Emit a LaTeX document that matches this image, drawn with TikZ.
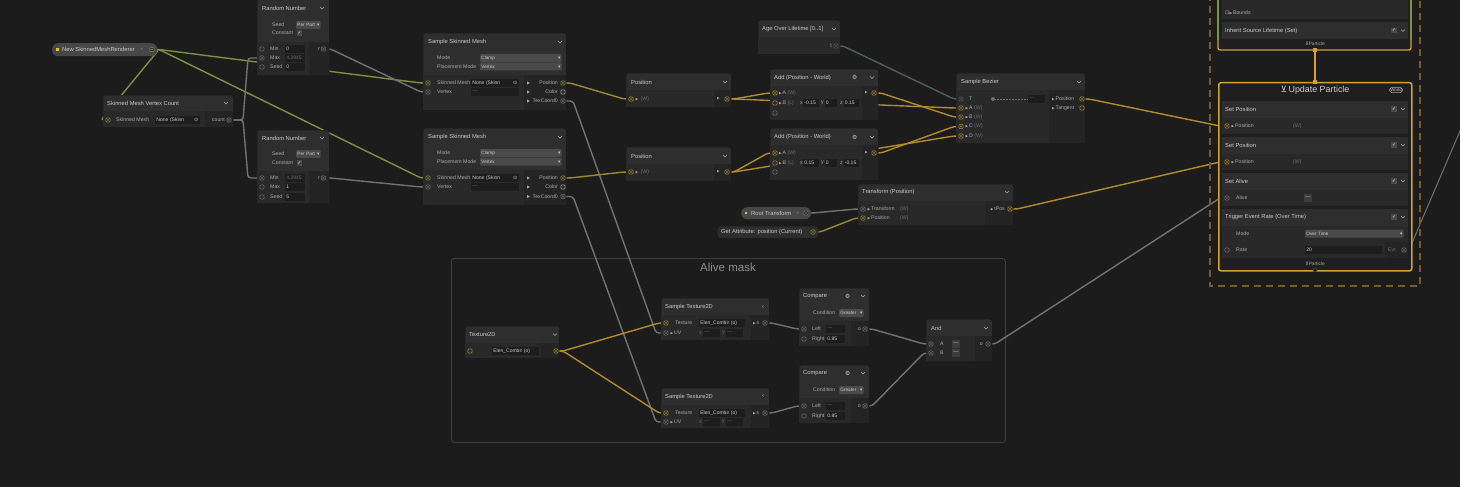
\documentclass[tikz,border=0pt]{standalone}
\usepackage{fontspec}
\setmainfont{Liberation Sans}
\newfontfamily\symf{DejaVu Sans}
\usetikzlibrary{calc}

\definecolor{bgc}{HTML}{1C1C1C}
\definecolor{hdc}{HTML}{2E2E2E}
\definecolor{rowc}{HTML}{292929}
\definecolor{outc}{HTML}{242424}
\definecolor{fldc}{HTML}{1D1D1D}
\definecolor{ddc}{HTML}{4A4A4A}
\definecolor{pillc}{HTML}{474747}
\definecolor{edgec}{HTML}{191919}
\definecolor{txc}{HTML}{CCCCCC}
\definecolor{lbc}{HTML}{AAAAAA}
\definecolor{dimc}{HTML}{6E6E6E}
\definecolor{yelc}{HTML}{E8C13A}
\definecolor{goldw}{HTML}{B38A2C}
\definecolor{olivew}{HTML}{9A8B33}
\definecolor{greenw}{HTML}{7F9140}
\definecolor{greyw}{HTML}{727272}
\definecolor{slatew}{HTML}{4F5E5A}
\definecolor{framec}{HTML}{D3A12E}
\definecolor{dashc}{HTML}{7A5B29}
\definecolor{groupc}{HTML}{3E3E3E}
\definecolor{grpt}{HTML}{8C8C8C}
\definecolor{sysc}{HTML}{1F1F1F}

\newcommand\rtri{{\symf\fontsize{3.4}{3}\selectfont ▶}\,}
\newcommand\ddarrow{\nobreak\hfill{\symf▾}}

\pgfdeclarelayer{back}
\pgfdeclarelayer{wires}
\pgfsetlayers{back,wires,main}

\tikzset{
  vfx/.style={anchor=north west, fill=hdc, draw=edgec, line width=0.4, rounded corners=1.5, inner sep=0},
  pill/.style={anchor=north west, fill=pillc, rounded corners=6, inner sep=0},
  hd/.style={anchor=west, inner sep=0, text=txc, font=\fontsize{5.8}{6}\selectfont},
  lb/.style={anchor=west, inner sep=0, text=lbc, font=\fontsize{5.2}{6}\selectfont},
  lbr/.style={lb, anchor=east},
  dim/.style={lb, text=dimc},
  fld/.style={anchor=west, fill=fldc, inner xsep=1.2, inner ysep=0, minimum height=8, text width=#1pt, text=txc, font=\fontsize{5}{6}\selectfont},
  dd/.style={fld=#1, fill=ddc, rounded corners=1, font=\fontsize{4.7}{6}\selectfont},
  chk/.style={fill=ddc, minimum size=5.5, inner sep=0, text=white, font=\symf\fontsize{4.5}{5}\selectfont},
  pt/.style={rectangle, rounded corners=1, draw=#1, line width=0.5, minimum size=4.2, inner sep=0, fill=hdc},
  cpt/.style={pt=#1, path picture={\fill[#1] (path picture bounding box.center) circle (0.9pt);}},
  ydot/.style={fill=yelc, minimum size=2.6, inner sep=0},
  fp/.style={fill=framec, minimum size=3.2, inner sep=0},
  blk/.style={anchor=north west, fill=hdc, minimum width=186, minimum height=17, inner sep=0},
  brow/.style={blk, fill=rowc, minimum height=16.5},
  chev/.style={draw=lbc, line width=0.5},
  wire/.style={line width=1.4, rounded corners=3, to path={-- ++(#1,0) -- ($(\tikztotarget)+(-#1,0)$) -- (\tikztotarget)}},
  wire/.default=7,
}

\begin{document}
\begin{tikzpicture}[x=1pt, y=-1pt]
  \useasboundingbox (0,0) rectangle (1460,487);
  \begin{pgfonlayer}{back}
    \fill[bgc] (0,0) rectangle (1460,487);
    \node[anchor=north west, draw=groupc, line width=0.8, rounded corners=3, minimum width=554, minimum height=184, inner sep=0] (mask) at (451,258) {};
    \node[text=grpt, font=\fontsize{11.5}{12}\selectfont] (mask-t) at (728,267) {Alive mask};
  \end{pgfonlayer}

  %% Skinned mesh property and vertex count
  \node[pill, minimum width=105, minimum height=13] (smr) at (52,43) {};
  \node[ydot]          (smr-d) at (57.5,49.5) {};
  \node[hd]            (smr-t) at (62,49.5)   {New SkinnedMeshRenderer};
  \node[lb]            (smr-k) at (141,49.5)  {‹};
  \node[cpt=greenw]    (smr-o) at (152,49.5)  {};

  \node[vfx, minimum width=130, minimum height=32] (vc) at (103,95) {};
  \fill[rowc] (103.4,111) rectangle (232.6,126.6);
  \fill[outc] (205,111) rectangle (232.6,126.6);
  \node[hd]            (vc-h)   at (107,103) {Skinned Mesh Vertex Count};
  \node[cpt=greenw]    (vc-in)  at (108,120) {};
  \node[lb]            (vc-l)   at (116,120) {Skinned Mesh};
  \node[fld=42]        (vc-f)   at (155,120) {None~(Skinn\nobreak\hfill{\symf⊙}};
  \node[lbr]           (vc-c)   at (225,120) {count};
  \node[cpt=greyw]     (vc-cnt) at (229,120) {};

  %% Random numbers
  \node[vfx, minimum width=72, minimum height=78] (rn1) at (257,-3) {};
  \fill[rowc] (257.4,42) rectangle (328.6,74.6);
  \fill[outc] (309,42) rectangle (328.6,74.6);
  \node[hd]            (rn1-h)   at (262,8)    {Random Number};
  \node[lb]            (rn1-sd)  at (272,25)   {Seed};
  \node[dd=22]         (rn1-sdv) at (296,25)   {Per~Part\ddarrow};
  \node[lb]            (rn1-ct)  at (272,33)   {Constant};
  \node[chk]           (rn1-ck)  at (299.5,33) {✓};
  \node[pt=greyw]      (rn1-min) at (262,49)   {};
  \node[cpt=greyw]     (rn1-max) at (262,58)   {};
  \node[pt=greyw]      (rn1-seed) at (262,67)  {};
  \node[lb]            (rn1-l1)  at (270,49)   {Min};
  \node[lb]            (rn1-l2)  at (270,58)   {Max};
  \node[lb]            (rn1-l3)  at (270,67)   {Seed};
  \node[fld=17]        (rn1-f1)  at (285,49)   {0};
  \node[fld=17, text=dimc] (rn1-f2) at (285,58) {4.2945};
  \node[fld=17]        (rn1-f3)  at (285,67)   {0};
  \node[lbr]           (rn1-rl)  at (320,49)   {r};
  \node[cpt=greyw]     (rn1-r)   at (323.5,49) {};

  \node[vfx, minimum width=72, minimum height=73] (rn2) at (257,130) {};
  \fill[rowc] (257.4,171) rectangle (328.6,202.6);
  \fill[outc] (309,171) rectangle (328.6,202.6);
  \node[hd]            (rn2-h)   at (262,138)   {Random Number};
  \node[lb]            (rn2-sd)  at (272,154)   {Seed};
  \node[dd=22]         (rn2-sdv) at (296,154)   {Per~Part\ddarrow};
  \node[lb]            (rn2-ct)  at (272,163)   {Constant};
  \node[chk]           (rn2-ck)  at (299.5,163) {✓};
  \node[cpt=greyw]     (rn2-min) at (262,178)   {};
  \node[pt=greyw]      (rn2-max) at (262,187)   {};
  \node[pt=greyw]      (rn2-seed) at (262,197)  {};
  \node[lb]            (rn2-l1)  at (270,178)   {Min};
  \node[lb]            (rn2-l2)  at (270,187)   {Max};
  \node[lb]            (rn2-l3)  at (270,197)   {Seed};
  \node[fld=17, text=dimc] (rn2-f1) at (285,178) {4.2945};
  \node[fld=17]        (rn2-f2)  at (285,187)   {1};
  \node[fld=17]        (rn2-f3)  at (285,197)   {5};
  \node[lbr]           (rn2-rl)  at (320,178)   {r};
  \node[cpt=greyw]     (rn2-r)   at (323.5,178) {};

  %%%%%%%%%%%%%%%%%%%%%%%%%%%%%%%%%%%%%%%%%%%%%%%%%%%%%%%%%%%
  %% Skinned mesh sampling
  %%%%%%%%%%%%%%%%%%%%%%%%%%%%%%%%%%%%%%%%%%%%%%%%%%%%%%%%%%%
  \node[vfx, minimum width=143, minimum height=77] (ssm1) at (423,33) {};
  \fill[rowc] (423.4,75) rectangle (565.6,109.6);
  \fill[outc] (524,75) rectangle (565.6,109.6);
  \node[hd]            (ssm1-h)    at (428,42)   {Sample Skinned Mesh};
  \node[lb]            (ssm1-m)    at (437,58)   {Mode};
  \node[dd=79]         (ssm1-mv)   at (480,58)   {Clamp\ddarrow};
  \node[lb]            (ssm1-pm)   at (437,66.5) {Placement Mode};
  \node[dd=79]         (ssm1-pv)   at (480,66.5) {Vertex\ddarrow};
  \node[cpt=greenw]    (ssm1-mesh) at (428,83)   {};
  \node[lb]            (ssm1-l1)   at (437,83)   {Skinned Mesh};
  \node[fld=45]        (ssm1-f1)   at (471,83)   {None~(Skinn\nobreak\hfill{\symf⊙}};
  \node[cpt=greyw]     (ssm1-vtx)  at (428,92)   {};
  \node[lb]            (ssm1-l2)   at (437,92)   {Vertex};
  \node[fld=45, text=dimc] (ssm1-f2) at (471,92) {—};
  \node[lbr]           (ssm1-o1)   at (558,83)   {Position};
  \node[cpt=greenw]    (ssm1-pos)  at (563,83)   {};
  \node[lbr]           (ssm1-o2)   at (558,92)   {Color};
  \node[pt=lbc]        (ssm1-col)  at (563,92)   {};
  \node[lbr]           (ssm1-o3)   at (558,101)  {TexCoord0};
  \node[cpt=greyw]     (ssm1-uv)   at (563,101)  {};

  \node[vfx, minimum width=143, minimum height=77] (ssm2) at (423,128) {};
  \fill[rowc] (423.4,170) rectangle (565.6,204.6);
  \fill[outc] (524,170) rectangle (565.6,204.6);
  \node[hd]            (ssm2-h)    at (428,137)   {Sample Skinned Mesh};
  \node[lb]            (ssm2-m)    at (437,153)   {Mode};
  \node[dd=79]         (ssm2-mv)   at (480,153)   {Clamp\ddarrow};
  \node[lb]            (ssm2-pm)   at (437,161.5) {Placement Mode};
  \node[dd=79]         (ssm2-pv)   at (480,161.5) {Vertex\ddarrow};
  \node[cpt=greenw]    (ssm2-mesh) at (428,178)   {};
  \node[lb]            (ssm2-l1)   at (437,178)   {Skinned Mesh};
  \node[fld=45]        (ssm2-f1)   at (471,178)   {None~(Skinn\nobreak\hfill{\symf⊙}};
  \node[cpt=greyw]     (ssm2-vtx)  at (428,187)   {};
  \node[lb]            (ssm2-l2)   at (437,187)   {Vertex};
  \node[fld=45, text=dimc] (ssm2-f2) at (471,187) {—};
  \node[lbr]           (ssm2-o1)   at (558,178)   {Position};
  \node[cpt=greenw]    (ssm2-pos)  at (563,178)   {};
  \node[lbr]           (ssm2-o2)   at (558,187)   {Color};
  \node[pt=lbc]        (ssm2-col)  at (563,187)   {};
  \node[lbr]           (ssm2-o3)   at (558,196.5) {TexCoord0};
  \node[cpt=greyw]     (ssm2-uv)   at (563,196.5) {};

  \foreach \y in {83,92,101,178,187,196.5}
    \fill[lbc] (527,\y-1.6) -- (529.8,\y) -- (527,\y+1.6) -- cycle;

  %% Positions and offsets
  \node[vfx, minimum width=105, minimum height=34] (pos1) at (626,73) {};
  \fill[rowc] (626.4,90) rectangle (730.6,106.6);
  \fill[outc] (714,90) rectangle (730.6,106.6);
  \node[hd]            (pos1-h)   at (631,82)  {Position};
  \node[cpt=goldw]     (pos1-in)  at (631,99)  {};
  \node[lb]            (pos1-l)   at (635.5,99) {\rtri~{\color{dimc}(W)}};
  \node[lb]            (pos1-ot)  at (717,99)  {\rtri};
  \node[cpt=goldw]     (pos1-out) at (727,99)  {};

  \node[vfx, minimum width=105, minimum height=34] (pos2) at (626,147) {};
  \fill[rowc] (626.4,164) rectangle (730.6,180.6);
  \fill[outc] (714,164) rectangle (730.6,180.6);
  \node[hd]            (pos2-h)   at (631,156)  {Position};
  \node[cpt=goldw]     (pos2-in)  at (631,172)  {};
  \node[lb]            (pos2-l)   at (635.5,172) {\rtri~{\color{dimc}(W)}};
  \node[lb]            (pos2-ot)  at (717,172)  {\rtri};
  \node[cpt=goldw]     (pos2-out) at (727,172)  {};

  \node[vfx, minimum width=82, minimum height=34] (age) at (758,20) {};
  \fill[rowc] (758.4,37) rectangle (839.6,53.6);
  \node[hd]            (age-h) at (762,29) {Age Over Lifetime [0..1]};
  \node[lbr]           (age-l) at (832,46) {t};
  \node[cpt=slatew]    (age-t) at (836,46) {};

  \node[vfx, minimum width=108, minimum height=51] (add1) at (770,69) {};
  \fill[rowc] (770.4,86) rectangle (877.6,119.6);
  \fill[outc] (862,86) rectangle (877.6,119.6);
  \node[hd]            (add1-h)  at (774,77.5) {Add (Position - World)};
  \node[hd]            (add1-g)  at (852,77.5) {\symf ⚙};
  \node[cpt=goldw]     (add1-a)  at (775,93)   {};
  \node[lb]            (add1-la) at (779,93)   {\rtri A~{\color{dimc}(W)}};
  \node[pt=goldw]      (add1-b)  at (775,103)  {};
  \node[lb]            (add1-lb) at (779,103)  {\rtri B~{\color{dimc}(L)}};
  \node[lb]            (add1-x)  at (800,103)  {x};
  \node[fld=13]        (add1-fx) at (803,103)  {-0.15};
  \node[lb]            (add1-y)  at (821,103)  {y};
  \node[fld=10]        (add1-fy) at (824.5,103) {0};
  \node[lb]            (add1-z)  at (840,103)  {z};
  \node[fld=13]        (add1-fz) at (843.5,103) {0.15};
  \node[pt=greyw]      (add1-c)  at (775,113)  {};
  \node[lb]            (add1-ot) at (865,93)   {\rtri};
  \node[cpt=goldw]     (add1-o)  at (874,93)   {};

  \node[vfx, minimum width=108, minimum height=52] (add2) at (770,128) {};
  \fill[rowc] (770.4,145) rectangle (877.6,179.6);
  \fill[outc] (862,145) rectangle (877.6,179.6);
  \node[hd]            (add2-h)  at (774,137)  {Add (Position - World)};
  \node[hd]            (add2-g)  at (852,137)  {\symf ⚙};
  \node[cpt=goldw]     (add2-a)  at (775,153)  {};
  \node[lb]            (add2-la) at (779,153)  {\rtri A~{\color{dimc}(W)}};
  \node[pt=goldw]      (add2-b)  at (775,163)  {};
  \node[lb]            (add2-lb) at (779,163)  {\rtri B~{\color{dimc}(L)}};
  \node[lb]            (add2-x)  at (800,163)  {x};
  \node[fld=13]        (add2-fx) at (803,163)  {0.15};
  \node[lb]            (add2-y)  at (821,163)  {y};
  \node[fld=10]        (add2-fy) at (824.5,163) {0};
  \node[lb]            (add2-z)  at (840,163)  {z};
  \node[fld=13]        (add2-fz) at (843.5,163) {-0.15};
  \node[pt=greyw]      (add2-c)  at (775,172)  {};
  \node[lb]            (add2-ot) at (865,153)  {\rtri};
  \node[cpt=goldw]     (add2-o)  at (874,153)  {};

  %% Bezier and transform
  \node[vfx, minimum width=129, minimum height=70] (bez) at (956,73) {};
  \fill[rowc] (956.4,90) rectangle (1084.6,142.6);
  \fill[outc] (1049,90) rectangle (1084.6,142.6);
  \node[hd]            (bez-h)  at (961,82)    {Sample Bezier};
  \node[cpt=slatew]    (bez-t)  at (961,99)    {};
  \node[lb]            (bez-lt) at (969,99)    {T};
  \node[circle, fill=dimc, minimum size=4, inner sep=0] (bez-k) at (993,99) {};
  \draw[dimc, densely dotted, line width=0.5] (bez-k) -- (1027,99);
  \node[fld=14, text=dimc] (bez-f) at (1028,99) {—};
  \node[cpt=goldw]     (bez-a)  at (961,108)   {};
  \node[lb]            (bez-la) at (965.5,108) {\rtri A~{\color{dimc}(W)}};
  \node[cpt=goldw]     (bez-b)  at (961,117)   {};
  \node[lb]            (bez-lb) at (965.5,117) {\rtri B~{\color{dimc}(W)}};
  \node[cpt=goldw]     (bez-c)  at (961,126.5) {};
  \node[lb]            (bez-lc) at (965.5,126.5) {\rtri C~{\color{dimc}(W)}};
  \node[cpt=goldw]     (bez-d)  at (961,136)   {};
  \node[lb]            (bez-ld) at (965.5,136) {\rtri D~{\color{dimc}(W)}};
  \node[lb]            (bez-o1) at (1052,99)   {\rtri Position};
  \node[cpt=goldw]     (bez-pos) at (1082,99)  {};
  \node[lb]            (bez-o2) at (1052,108)  {\rtri Tangent};
  \node[pt=goldw]      (bez-tan) at (1082,108) {};

  \node[vfx, minimum width=155, minimum height=41] (tf) at (858,184) {};
  \fill[rowc] (858.4,201) rectangle (1012.6,224.6);
  \fill[outc] (985,201) rectangle (1012.6,224.6);
  \node[hd]            (tf-h)   at (862,192)   {Transform (Position)};
  \node[cpt=greyw]     (tf-tr)  at (863,209)   {};
  \node[lb]            (tf-l1)  at (867.5,209) {\rtri Transform};
  \node[dim]           (tf-w1)  at (900,209)   {(W)};
  \node[cpt=goldw]     (tf-pos) at (863,218)   {};
  \node[lb]            (tf-l2)  at (867.5,218) {\rtri Position};
  \node[dim]           (tf-w2)  at (900,218)   {(W)};
  \node[lbr]           (tf-ol)  at (1005,209)  {\rtri tPos};
  \node[cpt=goldw]     (tf-o)   at (1010,209)  {};

  \node[pill, minimum width=70, minimum height=12] (root) at (741,207) {};
  \node[ydot]          (root-d) at (746,213) {};
  \node[hd]            (root-t) at (751,213) {Root Transform};
  \node[lb]            (root-k) at (797,213) {‹};
  \node[cpt=greyw]     (root-o) at (806,213) {};

  \node[vfx, minimum width=101, minimum height=12, rounded corners=3] (attr) at (717,226) {};
  \node[hd]            (attr-t) at (721,232) {Get Attribute: position (Current)};
  \node[cpt=greenw]    (attr-o) at (813,232) {};

  %%%%%%%%%%%%%%%%%%%%%%%%%%%%%%%%%%%%%%%%%%%%%%%%%%%%%%%%%%%
  %% Alive mask
  %%%%%%%%%%%%%%%%%%%%%%%%%%%%%%%%%%%%%%%%%%%%%%%%%%%%%%%%%%%
  \node[vfx, minimum width=94, minimum height=32] (tex) at (465,326) {};
  \fill[rowc] (465.4,343) rectangle (558.6,357.6);
  \fill[outc] (541,343) rectangle (558.6,357.6);
  \node[hd]            (tex-h)  at (469,334.5) {Texture2D};
  \node[pt=goldw]      (tex-in) at (470,351)   {};
  \node[fld=44]        (tex-f)  at (492,351)   {Elen\_Combir~(o)};
  \node[cpt=goldw]     (tex-o)  at (556,351)   {};

  \node[vfx, minimum width=108, minimum height=42] (st1) at (661,298) {};
  \fill[rowc] (661.4,315) rectangle (768.6,339.6);
  \fill[outc] (751,315) rectangle (768.6,339.6);
  \node[hd]            (st1-h)   at (665,307)   {Sample Texture2D};
  \node[hd]            (st1-k)   at (762,307)   {‹};
  \node[cpt=goldw]     (st1-tex) at (666,323)   {};
  \node[lb]            (st1-l1)  at (675,323)   {Texture};
  \node[fld=43]        (st1-f1)  at (699,323)   {Elen\_Combir~(o)};
  \node[cpt=greyw]     (st1-uv)  at (666,333)   {};
  \node[lb]            (st1-l2)  at (670.5,333) {\rtri UV};
  \node[dim]           (st1-x)   at (699,333)   {x};
  \node[fld=14, text=dimc] (st1-fx) at (703,333) {—};
  \node[dim]           (st1-y)   at (722,333)   {y};
  \node[fld=14, text=dimc] (st1-fy) at (726,333) {—};
  \node[lb]            (st1-ot)  at (753,323)   {\rtri s};
  \node[cpt=greyw]     (st1-s)   at (765,323)   {};

  \node[vfx, minimum width=108, minimum height=40] (st2) at (661,388) {};
  \fill[rowc] (661.4,405) rectangle (768.6,427.6);
  \fill[outc] (751,405) rectangle (768.6,427.6);
  \node[hd]            (st2-h)   at (665,396.5) {Sample Texture2D};
  \node[hd]            (st2-k)   at (762,396.5) {‹};
  \node[cpt=goldw]     (st2-tex) at (666,413)   {};
  \node[lb]            (st2-l1)  at (675,413)   {Texture};
  \node[fld=43]        (st2-f1)  at (699,413)   {Elen\_Combir~(o)};
  \node[cpt=greyw]     (st2-uv)  at (666,422)   {};
  \node[lb]            (st2-l2)  at (670.5,422) {\rtri UV};
  \node[dim]           (st2-x)   at (699,422)   {x};
  \node[fld=14, text=dimc] (st2-fx) at (703,422) {—};
  \node[dim]           (st2-y)   at (722,422)   {y};
  \node[fld=14, text=dimc] (st2-fy) at (726,422) {—};
  \node[lb]            (st2-ot)  at (753,413)   {\rtri s};
  \node[cpt=greyw]     (st2-s)   at (765,413)   {};

  \node[vfx, minimum width=70, minimum height=58] (cmp1) at (799,288) {};
  \fill[rowc] (799.4,321) rectangle (868.6,345.6);
  \fill[outc] (851,321) rectangle (868.6,345.6);
  \node[hd]            (cmp1-h)  at (803,296) {Compare};
  \node[hd]            (cmp1-g)  at (845,296) {\symf ⚙};
  \node[lb]            (cmp1-c)  at (813,313) {Condition};
  \node[dd=22]         (cmp1-cv) at (839,313) {Greater\ddarrow};
  \node[cpt=greyw]     (cmp1-l)  at (804,329) {};
  \node[lb]            (cmp1-ll) at (812,329) {Left};
  \node[fld=16, text=dimc] (cmp1-fl) at (826,329) {—};
  \node[pt=greyw]      (cmp1-r)  at (804,339) {};
  \node[lb]            (cmp1-lr) at (812,339) {Right};
  \node[fld=16]        (cmp1-fr) at (826,339) {0.85};
  \node[lbr]           (cmp1-ol) at (861,329) {o};
  \node[cpt=greyw]     (cmp1-o)  at (865,329) {};

  \node[vfx, minimum width=70, minimum height=58] (cmp2) at (799,365) {};
  \fill[rowc] (799.4,398) rectangle (868.6,422.6);
  \fill[outc] (851,398) rectangle (868.6,422.6);
  \node[hd]            (cmp2-h)  at (803,373) {Compare};
  \node[hd]            (cmp2-g)  at (845,373) {\symf ⚙};
  \node[lb]            (cmp2-c)  at (813,390) {Condition};
  \node[dd=22]         (cmp2-cv) at (839,390) {Greater\ddarrow};
  \node[cpt=greyw]     (cmp2-l)  at (804,406) {};
  \node[lb]            (cmp2-ll) at (812,406) {Left};
  \node[fld=16, text=dimc] (cmp2-fl) at (826,406) {—};
  \node[pt=greyw]      (cmp2-r)  at (804,416) {};
  \node[lb]            (cmp2-lr) at (812,416) {Right};
  \node[fld=16]        (cmp2-fr) at (826,416) {0.85};
  \node[lbr]           (cmp2-ol) at (861,406) {o};
  \node[cpt=greyw]     (cmp2-o)  at (865,406) {};

  \node[vfx, minimum width=66, minimum height=42] (and) at (926,319) {};
  \fill[rowc] (926.4,336) rectangle (991.6,360.6);
  \fill[outc] (975,336) rectangle (991.6,360.6);
  \node[hd]            (and-h)  at (931,328) {And};
  \node[cpt=greyw]     (and-a)  at (931,344) {};
  \node[lb]            (and-la) at (940,344) {A};
  \node[fld=5, fill=ddc!70!fldc] (and-fa) at (952,344) {—};
  \node[cpt=greyw]     (and-b)  at (931,353) {};
  \node[lb]            (and-lb) at (940,353) {B};
  \node[fld=5, fill=ddc!70!fldc] (and-fb) at (952,353) {—};
  \node[lbr]           (and-ol) at (983,344) {o};
  \node[cpt=greyw]     (and-o)  at (988,344) {};

  %%%%%%%%%%%%%%%%%%%%%%%%%%%%%%%%%%%%%%%%%%%%%%%%%%%%%%%%%%%
  %% Particle system
  %%%%%%%%%%%%%%%%%%%%%%%%%%%%%%%%%%%%%%%%%%%%%%%%%%%%%%%%%%%
  \draw[dashc, line width=1.4, dash pattern=on 7pt off 5pt] (1210,-6) -- (1210,286) -- (1420,286) -- (1420,-6);

  \node[anchor=north west, fill=sysc, minimum width=193, minimum height=56, inner sep=0] (init) at (1218,-6) {};
  \draw[greenw, line width=1.4] (1218,-6) -- (1218,40);
  \draw[greenw, line width=1.4] (1411,-6) -- (1411,40);
  \draw[framec, line width=1.4, rounded corners=2] (1218,40) -- (1218,50) -- (1411,50) -- (1411,40);
  \fill[rowc] (1222,-6) rectangle (1408,19);
  \node[lb]            (init-bd) at (1225,13)   {{\symf ⊡}\rtri Bounds};
  \node[blk]           (inh)     at (1222,22)   {};
  \node[hd]            (inh-h)   at (1225,30.5) {Inherit Source Lifetime (Set)};
  \node[chk]           (inh-c)   at (1394,30.5) {✓};
  \node[lb, anchor=center, font=\fontsize{4.8}{5}\selectfont] (init-f) at (1315,44) {{\symf ⊻}Particle};
  \node[fp]            (init-b)  at (1315,50)   {};

  \node[anchor=north west, fill=sysc, draw=framec, line width=1.5, rounded corners=2, minimum width=193, minimum height=188, inner sep=0] (upd) at (1218,82) {};
  \node[fp]            (upd-t)   at (1315,82)   {};
  \node[text=txc, font=\fontsize{8.9}{10}\selectfont, inner sep=0] (upd-h) at (1315,90.5) {{\symf ⊻}\,Update Particle};
  \node[draw=lbc, rounded corners=1.5, inner sep=0.7, text=txc, font=\fontsize{4.4}{5}\selectfont] (upd-w) at (1396,90) {World};

  \node[blk]           (sp1)     at (1222,100.5) {};
  \node[brow]          (sp1-r)   at (1222,117.5) {};
  \node[hd]            (sp1-h)   at (1225,109)   {Set Position};
  \node[chk]           (sp1-c)   at (1394,109)   {✓};
  \node[cpt=goldw]     (upd-p1)  at (1227,126)   {};
  \node[lb]            (sp1-l)   at (1231.5,126) {\rtri Position};
  \node[dim]           (sp1-w)   at (1293,126)   {(W)};

  \node[blk]           (sp2)     at (1222,136.5) {};
  \node[brow]          (sp2-r)   at (1222,153.5) {};
  \node[hd]            (sp2-h)   at (1225,145)   {Set Position};
  \node[chk]           (sp2-c)   at (1394,145)   {✓};
  \node[cpt=goldw]     (upd-p2)  at (1227,162)   {};
  \node[lb]            (sp2-l)   at (1231.5,162) {\rtri Position};
  \node[dim]           (sp2-w)   at (1293,162)   {(W)};

  \node[blk]           (al)      at (1222,172.5) {};
  \node[brow]          (al-r)    at (1222,189.5) {};
  \node[hd]            (al-h)    at (1225,181)   {Set Alive};
  \node[chk]           (al-c)    at (1394,181)   {✓};
  \node[cpt=greyw]     (upd-al)  at (1227,198)   {};
  \node[lb]            (al-l)    at (1236,198)   {Alive};
  \node[fld=5, fill=ddc!70!fldc] (al-f) at (1304,198) {—};

  \node[blk]           (tr)      at (1222,208.5) {};
  \node[brow]          (tr-r1)   at (1222,225.5) {};
  \node[brow]          (tr-r2)   at (1222,241.5) {};
  \fill[outc] (1385,241.5) rectangle (1408,258);
  \node[hd]            (tr-h)    at (1225,217)   {Trigger Event Rate (Over Time)};
  \node[chk]           (tr-c)    at (1394,217)   {✓};
  \node[lb]            (tr-m)    at (1236,233.5) {Mode};
  \node[dd=96]         (tr-mv)   at (1305,233.5) {Over~Time\ddarrow};
  \node[pt=greyw]      (upd-rate) at (1227,250)  {};
  \node[lb]            (tr-rl)   at (1236,250)   {Rate};
  \node[fld=74]        (tr-rv)   at (1305,250)   {20};
  \node[dim]           (tr-e)    at (1388,250)   {Evt};
  \node[cpt=greyw]     (upd-evt) at (1404,250)   {};
  \node[lb, anchor=center, font=\fontsize{4.8}{5}\selectfont] (upd-f) at (1315,263.5) {{\symf ⊻}Particle};
  \node[circle, draw=framec!50!black, fill=bgc, minimum size=4, inner sep=0] (upd-b) at (1315,270) {};
  \coordinate (evt-end) at (1468,124);

  \foreach \x/\y in {226/103, 322/8, 322/138, 560/42, 560/137, 725/82, 725/156, 834/29,
                     872/77.5, 872/137, 1079/82, 1007/192, 555/334.5, 863/296, 863/373, 986/328,
                     1403/30.5, 1403/109, 1403/145, 1403/181, 1403/217}
    \draw[chev] (\x-2,\y-1) -- (\x,\y+1) -- (\x+2,\y-1);

  %% Connections
  \begin{pgfonlayer}{wires}
    \path[wire, greenw]  (smr-o) edge (vc-in) edge (ssm1-mesh) edge (ssm2-mesh);
    \path[wire=14, greyw] (vc-cnt) edge (rn1-max) edge (rn2-min);
    \path[wire, greyw]   (rn1-r) edge (ssm1-vtx);
    \path[wire, greyw]   (rn2-r) edge (ssm2-vtx);
    \path[wire, olivew]  (ssm1-pos) edge (pos1-in);
    \path[wire, olivew]  (ssm2-pos) edge (pos2-in);
    \path[wire=10, greyw] (ssm1-uv) edge (st1-uv);
    \path[wire=10, greyw] (ssm2-uv) edge (st2-uv);
    \path[wire, goldw]   (pos1-out) edge (add1-a) edge (bez-a);
    \path[wire, goldw]   (pos2-out) edge (add2-a) edge (bez-d);
    \path[wire, goldw]   (add1-o) edge (bez-b);
    \path[wire, goldw]   (add2-o) edge (bez-c);
    \path[wire, slatew]  (age-t) edge (bez-t);
    \path[wire, goldw]   (bez-pos) edge (upd-p1);
    \path[wire, goldw]   (tf-o) edge (upd-p2);
    \path[wire, greyw]   (root-o) edge (tf-tr);
    \path[wire, olivew]  (attr-o) edge (tf-pos);
    \path[wire, goldw]   (tex-o) edge (st1-tex) edge (st2-tex);
    \path[wire, greyw]   (st1-s) edge (cmp1-l);
    \path[wire, greyw]   (st2-s) edge (cmp2-l);
    \path[wire, greyw]   (cmp1-o) edge (and-a);
    \path[wire, greyw]   (cmp2-o) edge (and-b);
    \path[wire, greyw]   (and-o) edge (upd-al);
    \path[wire=5, greyw, line width=1] (upd-evt) edge (evt-end);
    \draw[framec, line width=1.4] (init-b) -- (upd-t);
  \end{pgfonlayer}
\end{tikzpicture}
\end{document}
